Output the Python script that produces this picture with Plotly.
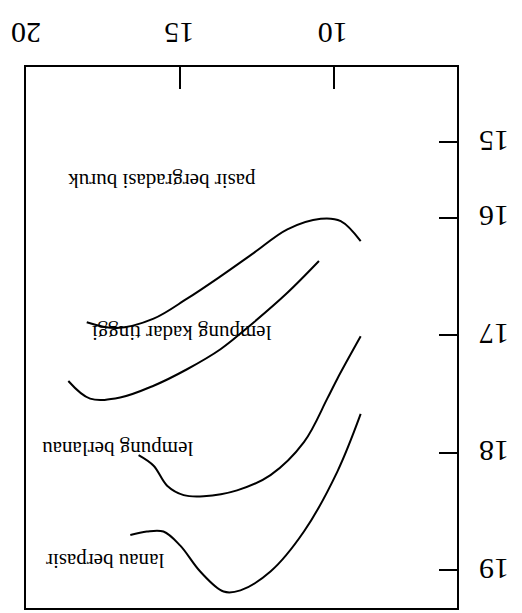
import plotly.graph_objects as go

# Data read from the (upside-down) reference picture
x_ticks = [20, 15, 10]
x_ticklabels = ["20", "15", "10"]
y_ticks = [15.36, 16, 17, 18, 19]
y_ticklabels = ["15", "16", "17", "18", "19"]

# upper curve (pasir bergradasi buruk boundary)
c1_x = [18.05, 17.07, 15.87, 14.78, 13.69, 12.60, 11.51, 10.42, 9.77, 9.12]
c1_y = [16.89, 16.94, 16.86, 16.69, 16.50, 16.30, 16.10, 16.01, 16.03, 16.20]
# lempung kadar tinggi boundary
c2_x = [18.65, 17.94, 16.96, 15.87, 14.78, 13.69, 12.60, 11.51, 10.48]
c2_y = [17.39, 17.54, 17.53, 17.43, 17.29, 17.12, 16.89, 16.64, 16.37]
# lempung berlanau boundary
c3_x = [16.36, 15.87, 15.43, 14.89, 14.24, 13.15, 12.06, 10.97, 10.21, 9.88, 9.12]
c3_y = [18.02, 18.11, 18.28, 18.36, 18.37, 18.32, 18.19, 17.91, 17.54, 17.37, 17.01]
# lanau berpasir boundary
c4_x = [16.63, 16.09, 15.55, 15.00, 14.35, 13.59, 13.04, 12.06, 10.97, 9.88, 9.12]
c4_y = [18.70, 18.67, 18.67, 18.79, 19.01, 19.18, 19.17, 19.01, 18.67, 18.16, 17.67]

labels = ["pasir bergradasi buruk", "lempung kadar tinggi", "lempung berlanau", "lanau berpasir"]
label_x = [15.62, 14.97, 17.06, 17.45]
label_y = [15.69, 16.98, 17.97, 18.92]

fig = go.Figure()
for xs, ys in [(c1_x, c1_y), (c2_x, c2_y), (c3_x, c3_y), (c4_x, c4_y)]:
    fig.add_trace(go.Scatter(x=xs, y=ys, mode="lines",
                             line=dict(color="black", width=2, shape="spline", smoothing=1.0),
                             showlegend=False, hoverinfo="skip"))

for t, lx, ly in zip(labels, label_x, label_y):
    fig.add_annotation(x=lx, y=ly, text=t, showarrow=False, textangle=180,
                       font=dict(family="Liberation Serif", size=21, color="black"))

font_ticks = dict(family="Liberation Serif", size=30, color="black")
fig.update_layout(
    width=522, height=613,
    margin=dict(l=26, r=65, t=67, b=3),
    paper_bgcolor="white", plot_bgcolor="white",
    xaxis=dict(range=[20.03, 5.98], side="top", tickvals=x_ticks, ticktext=x_ticklabels,
               ticks="inside", ticklen=22, tickwidth=2, tickcolor="black",
               showline=True, linecolor="black", linewidth=2, mirror=True,
               showgrid=False, zeroline=False, tickangle=180, tickfont=font_ticks,
               ticklabelshift=-14, ticklabeloverflow="allow"),
    yaxis=dict(range=[19.32, 14.72], side="right", tickvals=y_ticks, ticktext=y_ticklabels,
               ticks="inside", ticklen=18, tickwidth=2, tickcolor="black",
               showline=True, linecolor="black", linewidth=2, mirror=True,
               showgrid=False, zeroline=False, tickangle=180, tickfont=font_ticks,
               ticklabelstandoff=44, ticklabelshift=-8, ticklabeloverflow="allow"),
)
fig.write_html("out.html")
